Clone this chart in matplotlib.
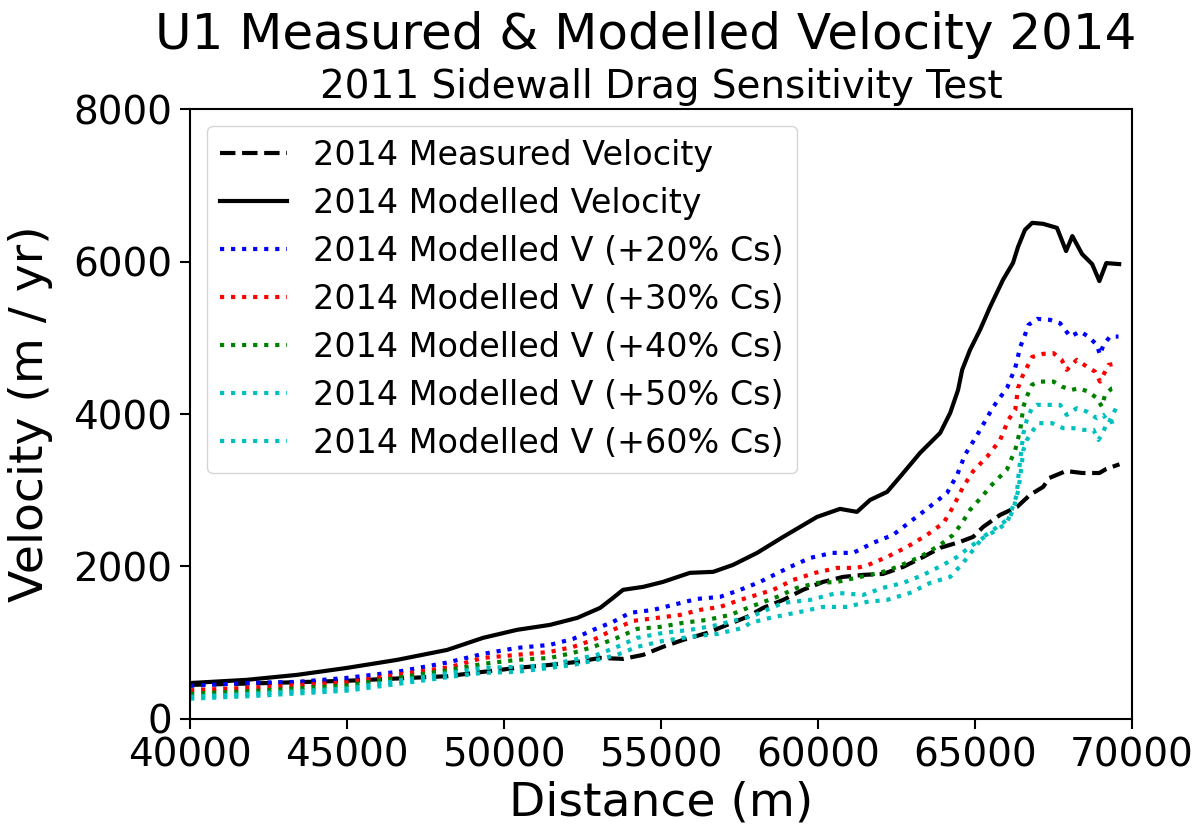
import matplotlib.pyplot as plt

# Along-flow distance (m) and velocity (m/yr) for each run
dist_meas = [40000, 42000, 45000, 48200, 49330, 50410, 51460, 52330, 53060, 53790,
             54430, 55060, 55700, 56470, 57100, 57740, 58250, 58890, 59520, 60160,
             60800, 61440, 62070, 62710, 63350, 63890, 64520, 64940, 65260, 65800,
             66340, 66750, 67170, 67370, 67900, 68410, 68960, 69180, 69600]
v_meas = [446, 465, 500, 560, 617, 669, 708, 748, 800, 787,
          840, 945, 1036, 1128, 1233, 1338, 1456, 1561, 1693, 1797,
          1863, 1889, 1902, 1994, 2125, 2244, 2322, 2388, 2519, 2676,
          2781, 2939, 3044, 3161, 3252, 3226, 3226, 3279, 3340]

dist_mod = [40000, 41800, 43400, 45000, 46590, 48190, 49330, 50410, 51460, 52330,
            53060, 53470, 53790, 54430, 55060, 55920, 56660, 57290, 58060, 58890,
            59970, 60700, 61240, 61660, 62200, 62610, 63250, 63890, 64210, 64460,
            64590, 64840, 65160, 65480, 65890, 66210, 66370, 66590, 66820, 67170,
            67610, 67900, 68100, 68410, 68730, 68960, 69180, 69590]
v_mod = [470, 512, 577, 669, 774, 905, 1063, 1168, 1233, 1325,
         1456, 1587, 1693, 1732, 1797, 1916, 1929, 2020, 2178, 2388,
         2650, 2755, 2716, 2873, 2978, 3175, 3490, 3752, 4015, 4316,
         4579, 4841, 5104, 5406, 5760, 5983, 6193, 6416, 6508, 6495,
         6442, 6138, 6334, 6098, 5967, 5744, 5980, 5967]

dist_20 = [40000, 41820, 43400, 45000, 46590, 48200, 49330, 50410, 51460, 52200,
           52840, 53470, 54010, 54750, 55510, 56150, 56880, 57520, 58150, 58470,
           59110, 59750, 60450, 61120, 61750, 62390, 62930, 63510, 64110, 64430,
           64680, 65070, 65580, 66020, 66280, 66440, 66590, 66700, 66980, 67390,
           67710, 68030, 68350, 68610, 68880, 68980, 69090, 69300, 69570]
v_20 = [433, 472, 485, 538, 617, 740, 853, 931, 971, 1050,
        1168, 1273, 1391, 1430, 1509, 1574, 1601, 1693, 1797, 1863,
        1994, 2112, 2178, 2178, 2309, 2414, 2585, 2768, 2965, 3201,
        3464, 3726, 4093, 4343, 4605, 4880, 5038, 5169, 5248, 5235,
        5191, 5016, 5082, 5016, 4907, 4776, 4907, 5016, 5016]

dist_30 = [40000, 42000, 45000, 48280, 49330, 50410, 51460, 52200, 52840, 53470,
           54110, 54870, 55610, 56240, 56880, 57520, 57840, 58570, 59210, 59910,
           60610, 61240, 61600, 62200, 62840, 63470, 64000, 64300, 64620, 64940,
           65380, 65800, 66060, 66280, 66370, 66500, 66660, 66820, 67170, 67500,
           67760, 67920, 68240, 68560, 68820, 68980, 69090, 69250, 69570]
v_30 = [375, 410, 480, 680, 800, 840, 879, 945, 1036, 1168,
        1286, 1325, 1364, 1430, 1469, 1561, 1601, 1693, 1824, 1916,
        1981, 1981, 2020, 2125, 2257, 2414, 2572, 2781, 3044, 3250,
        3437, 3660, 3923, 4054, 4343, 4487, 4618, 4749, 4789, 4798,
        4710, 4579, 4710, 4622, 4557, 4425, 4513, 4644, 4667]

dist_40 = [40000, 42000, 45000, 48280, 49330, 50410, 51460, 52200, 52840, 53600,
           54240, 54970, 55700, 56470, 57200, 57840, 58700, 59330, 59970, 60610,
           61340, 61980, 62520, 63250, 63890, 64300, 64590, 64840, 65270, 65480,
           66010, 66280, 66440, 66540, 66650, 66810, 67020, 67500, 67760, 68080,
           68290, 68610, 68880, 69040, 69140, 69360, 69570]
v_40 = [330, 365, 440, 643, 722, 774, 800, 866, 945, 1063,
        1181, 1207, 1260, 1299, 1364, 1469, 1601, 1719, 1784, 1797,
        1863, 1916, 1994, 2125, 2283, 2414, 2572, 2742, 2939, 3048,
        3267, 3529, 3792, 4097, 4229, 4382, 4425, 4425, 4360, 4316,
        4338, 4294, 4207, 4097, 4251, 4338, 4360]

dist_50 = [40000, 42000, 45000, 48280, 49330, 50410, 51460, 52200, 52960, 53600,
           54240, 55060, 55920, 56660, 57420, 57840, 58890, 59750, 60610, 61440,
           62070, 62710, 63350, 63980, 64430, 64840, 65260, 65700, 66020, 66200,
           66330, 66380, 66440, 66490, 66540, 66650, 66810, 66970, 67710, 67920,
           68240, 68560, 68880, 69090, 69250, 69570]
v_50 = [290, 330, 400, 604, 669, 682, 708, 774, 840, 945,
        1063, 1128, 1168, 1220, 1299, 1338, 1522, 1561, 1653, 1627,
        1719, 1784, 1889, 2020, 2125, 2257, 2375, 2480, 2572, 2781,
        2939, 3179, 3398, 3573, 3748, 3923, 4076, 4120, 4120, 3988,
        4076, 4032, 3945, 3988, 3880, 4142]

dist_60 = [40000, 42000, 45000, 48280, 49330, 50410, 51460, 52200, 52960, 53600,
           54240, 55060, 55920, 56790, 57610, 57840, 58470, 59430, 60160, 60930,
           61560, 62200, 62930, 63570, 64210, 64620, 64940, 65260, 65580, 65890,
           66120, 66250, 66380, 66440, 66490, 66540, 66650, 66860, 67020, 67450,
           67810, 68140, 68460, 68770, 68930, 69040, 69200, 69570]
v_60 = [265, 300, 370, 551, 604, 617, 669, 708, 774, 840,
        945, 1023, 1076, 1115, 1194, 1259, 1325, 1404, 1469, 1469,
        1535, 1561, 1653, 1784, 1863, 2047, 2217, 2388, 2480, 2572,
        2650, 2800, 3005, 3179, 3354, 3529, 3660, 3792, 3880, 3880,
        3814, 3814, 3792, 3792, 3660, 3726, 3880, 3923]

fig = plt.figure(figsize=(12.03, 8.33), dpi=100)
ax = fig.add_axes([0.158, 0.137, 0.783, 0.732])

ax.plot(dist_meas, v_meas, 'k--', lw=3, label='2014 Measured Velocity')
ax.plot(dist_mod, v_mod, 'k-', lw=3, label='2014 Modelled Velocity')
ax.plot(dist_20, v_20, 'b:', lw=3, label='2014 Modelled V (+20% Cs)')
ax.plot(dist_30, v_30, 'r:', lw=3, label='2014 Modelled V (+30% Cs)')
ax.plot(dist_40, v_40, 'g:', lw=3, label='2014 Modelled V (+40% Cs)')
ax.plot(dist_50, v_50, 'c:', lw=3, label='2014 Modelled V (+50% Cs)')
ax.plot(dist_60, v_60, 'c:', lw=3, label='2014 Modelled V (+60% Cs)')

ax.set_xlim(40000, 70000)
ax.set_ylim(0, 8000)
ax.set_xticks([40000, 45000, 50000, 55000, 60000, 65000, 70000])
ax.set_yticks([0, 2000, 4000, 6000, 8000])
ax.tick_params(labelsize=28, width=1.5, length=7, pad=6)
for s in ax.spines.values():
    s.set_linewidth(1.5)

ax.set_xlabel('Distance (m)', fontsize=34, labelpad=4)
ax.set_ylabel('Velocity (m / yr)', fontsize=34, labelpad=14)
ax.set_title('2011 Sidewall Drag Sensitivity Test', fontsize=28, pad=8)
fig.text(0.537, 0.958, 'U1 Measured & Modelled Velocity 2014', fontsize=36,
         ha='center', va='center')

ax.legend(loc='upper left', fontsize=24, handlelength=2, labelspacing=0.45)

fig.savefig('out.png', dpi=100)
